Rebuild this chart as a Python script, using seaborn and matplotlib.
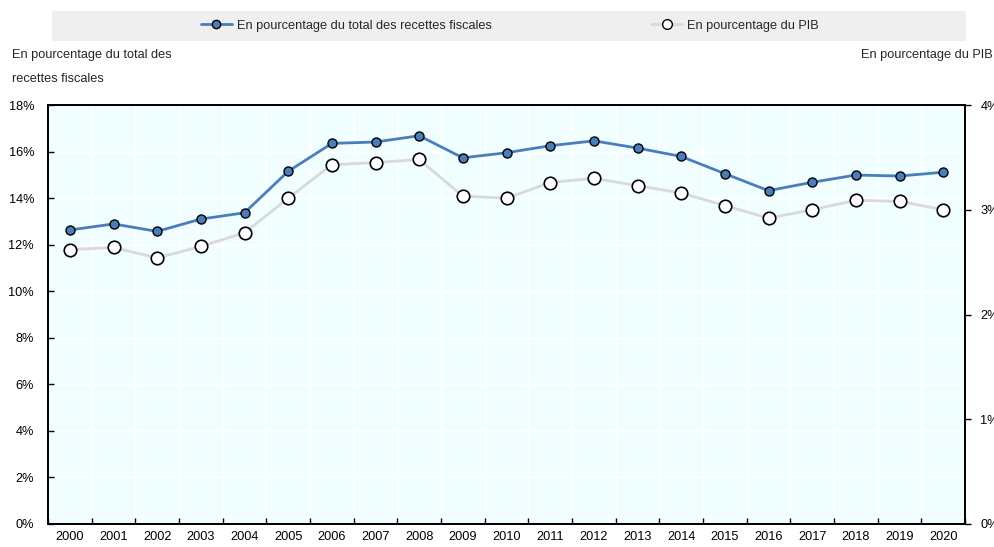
import numpy as np
import pandas as pd
import matplotlib.pyplot as plt
from matplotlib.lines import Line2D
from matplotlib.patches import Rectangle
import seaborn as sns

# --- données ---
annees = list(range(2000, 2021))
pct_recettes = [12.63, 12.89, 12.57, 13.10, 13.37, 15.15, 16.35, 16.41, 16.68, 15.73, 15.95,
                16.25, 16.46, 16.15, 15.79, 15.05, 14.32, 14.68, 14.99, 14.95, 15.11]
pct_pib = [2.62, 2.64, 2.54, 2.65, 2.78, 3.11, 3.43, 3.45, 3.48, 3.13, 3.11,
           3.26, 3.30, 3.23, 3.16, 3.04, 2.92, 3.00, 3.09, 3.08, 3.00]

lab_recettes = "En pourcentage du total des recettes fiscales"
lab_pib = "En pourcentage du PIB"
ticks_gauche = list(range(0, 19, 2))
ticks_droite = list(range(0, 5))

df = pd.DataFrame({"annee": annees, "recettes": pct_recettes, "pib": pct_pib})

sns.set_theme(style="white")
plt.rcParams['font.family'] = ['Liberation Sans', 'DejaVu Sans']
fs = 9.2

bleu = "#4A7EBB"
gris = "#D9D9D9"

fig = plt.figure(figsize=(9.94, 5.47), dpi=100)
ax = fig.add_axes([48 / 994, 1 - 524 / 547, 917 / 994, 419 / 547])
ax.set_facecolor("#F0FEFF")
ax2 = ax.twinx()

sns.lineplot(data=df, x="annee", y="recettes", ax=ax, color=bleu, lw=2, marker="o",
             markersize=6.5, markerfacecolor=bleu, markeredgecolor="black",
             markeredgewidth=1, zorder=3)
sns.lineplot(data=df, x="annee", y="pib", ax=ax2, color=gris, lw=2, marker="o",
             markersize=9, markerfacecolor="white", markeredgecolor="black",
             markeredgewidth=1.2, zorder=3)

# --- axes ---
ax.set_xlim(1999.5, 2020.5)
ax.set_ylim(0, 18)
ax2.set_ylim(0, 4)
ax.set_xlabel("")
ax.set_ylabel("")
ax2.set_ylabel("")

ax.set_xticks(annees)
ax.set_xticklabels([str(a) for a in annees])
ax.set_xticks(np.arange(1999.5, 2021, 1), minor=True)
ax.set_yticks(ticks_gauche)
ax.set_yticklabels([f"{t}%" for t in ticks_gauche])
ax2.set_yticks(ticks_droite)
ax2.set_yticklabels([f"{t}%" for t in ticks_droite])

ax.tick_params(axis='x', which='major', length=0, pad=5, labelsize=fs, colors='black')
ax.tick_params(axis='x', which='minor', direction='in', length=4, width=1, color='black', bottom=True)
ax.tick_params(axis='y', direction='in', length=4, width=1, pad=10, labelsize=fs, colors='black', left=True)
ax2.tick_params(axis='y', direction='out', length=4, width=1, pad=7, labelsize=fs, colors='black', right=True)

ax.grid(axis='y', color='white', lw=1)
ax.grid(axis='x', which='minor', color='white', lw=1)
ax.grid(axis='x', which='major', visible=False)

for a in (ax, ax2):
    for s in a.spines.values():
        s.set_color('black')
        s.set_linewidth(1.3)

# --- légende ---
fig.add_artist(Rectangle((52 / 994, 1 - 41 / 547), 914 / 994, 30 / 547, transform=fig.transFigure,
                         facecolor="#EFEFEF", edgecolor='none', zorder=0))
handles = [
    Line2D([], [], color=bleu, lw=2, marker="o", markersize=6, markerfacecolor=bleu,
           markeredgecolor="black", markeredgewidth=1),
    Line2D([], [], color=gris, lw=2, marker="o", markersize=7, markerfacecolor="white",
           markeredgecolor="black", markeredgewidth=1),
]
fig.legend(handles, [lab_recettes, lab_pib], loc='center', bbox_to_anchor=(510 / 994, 1 - 25.5 / 547),
           ncol=2, frameon=False, fontsize=fs, handlelength=2.4, handletextpad=0.4, columnspacing=12.5)

# --- titres des axes ---
fig.text(12 / 994, 1 - 55 / 547, "En pourcentage du total des", va='center', fontsize=fs)
fig.text(12 / 994, 1 - 79 / 547, "recettes fiscales", va='center', fontsize=fs)
fig.text(993 / 994, 1 - 55 / 547, lab_pib, ha='right', va='center', fontsize=fs)

fig.savefig("out.png", dpi=100)
